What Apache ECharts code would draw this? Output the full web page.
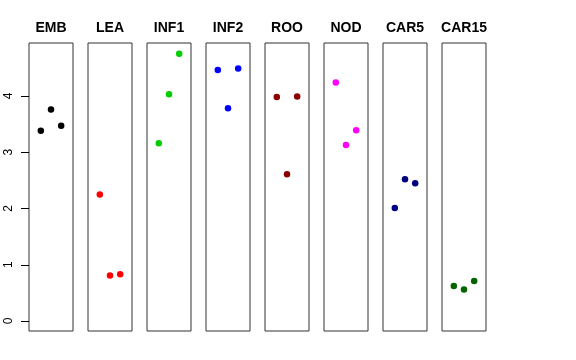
<!DOCTYPE html>
<html><head><meta charset="utf-8">
<script src="https://cdn.jsdelivr.net/npm/echarts@6/dist/echarts.min.js"></script>
<style>html,body{margin:0;padding:0;background:#fff}#c{width:576px;height:360px}</style>
</head><body><div id="c"></div>
<script>
const categories = ['EMB','LEA','INF1','INF2','ROO','NOD','CAR5','CAR15'];
const colors = ['#000000','#FF0000','#00CD00','#0000FF','#8B0000','#FF00FF','#000080','#006400'];
const positions = [1, 2, 3];
const valEMB = [3.38, 3.76, 3.47];
const valLEA = [2.25, 0.81, 0.83];
const valINF1 = [3.16, 4.03, 4.75];
const valINF2 = [4.46, 3.78, 4.49];
const valROO = [3.98, 2.61, 3.99];
const valNOD = [4.24, 3.13, 3.39];
const valCAR5 = [2.01, 2.52, 2.45];
const valCAR15 = [0.62, 0.56, 0.71];
const values = [valEMB, valLEA, valINF1, valINF2, valROO, valNOD, valCAR5, valCAR15];
const yTicks = [0, 1, 2, 3, 4];

const FONT = '"Liberation Sans", Arial, Helvetica, sans-serif';
const panelLeft0 = 29, panelStep = 59, panelW = 44, panelTop = 43, panelH = 288;
const yMin = -10/56.25, yMax = 4.942;

const grids = [], xAxes = [], yAxes = [], series = [], titles = [];
categories.forEach((cat, i) => {
  const left = panelLeft0 + i*panelStep;
  grids.push({left: left, top: panelTop, width: panelW, height: panelH,
    show: true, borderColor: '#333', borderWidth: 1, backgroundColor: 'transparent'});
  xAxes.push({gridIndex: i, type: 'value', min: -0.16, max: 4.16, show: false});
  yAxes.push({gridIndex: i, type: 'value', min: yMin, max: yMax, show: false});
  series.push({type: 'scatter', xAxisIndex: i, yAxisIndex: i, symbol: 'circle', symbolSize: 6.5,
    itemStyle: {color: colors[i], opacity: 1}, silent: true,
    data: positions.map((p, k) => [p, values[i][k]])});
  titles.push({text: cat, left: left + panelW/2, top: 21, textAlign: 'center', padding: 0,
    textStyle: {fontFamily: FONT, fontWeight: 'bold', fontSize: 14, color: '#000'}});
});
// axis-only grid for the shared y axis
grids.push({left: panelLeft0, top: 96, width: panelW, height: 225, show: false});
xAxes.push({gridIndex: 8, type: 'value', show: false, min: 0, max: 1});
yAxes.push({gridIndex: 8, type: 'value', min: yTicks[0], max: yTicks[yTicks.length-1], interval: 1,
  axisLine: {show: false}, splitLine: {show: false},
  axisTick: {show: true, length: 8, lineStyle: {color: '#000', width: 1}},
  axisLabel: {rotate: 90, margin: 14, fontFamily: FONT, fontSize: 12, color: '#000'}});

const chart = echarts.init(document.getElementById('c'), null, {renderer: 'canvas'});
chart.setOption({animation: false, backgroundColor: '#fff', title: titles,
  grid: grids, xAxis: xAxes, yAxis: yAxes, series: series});
</script></body></html>
